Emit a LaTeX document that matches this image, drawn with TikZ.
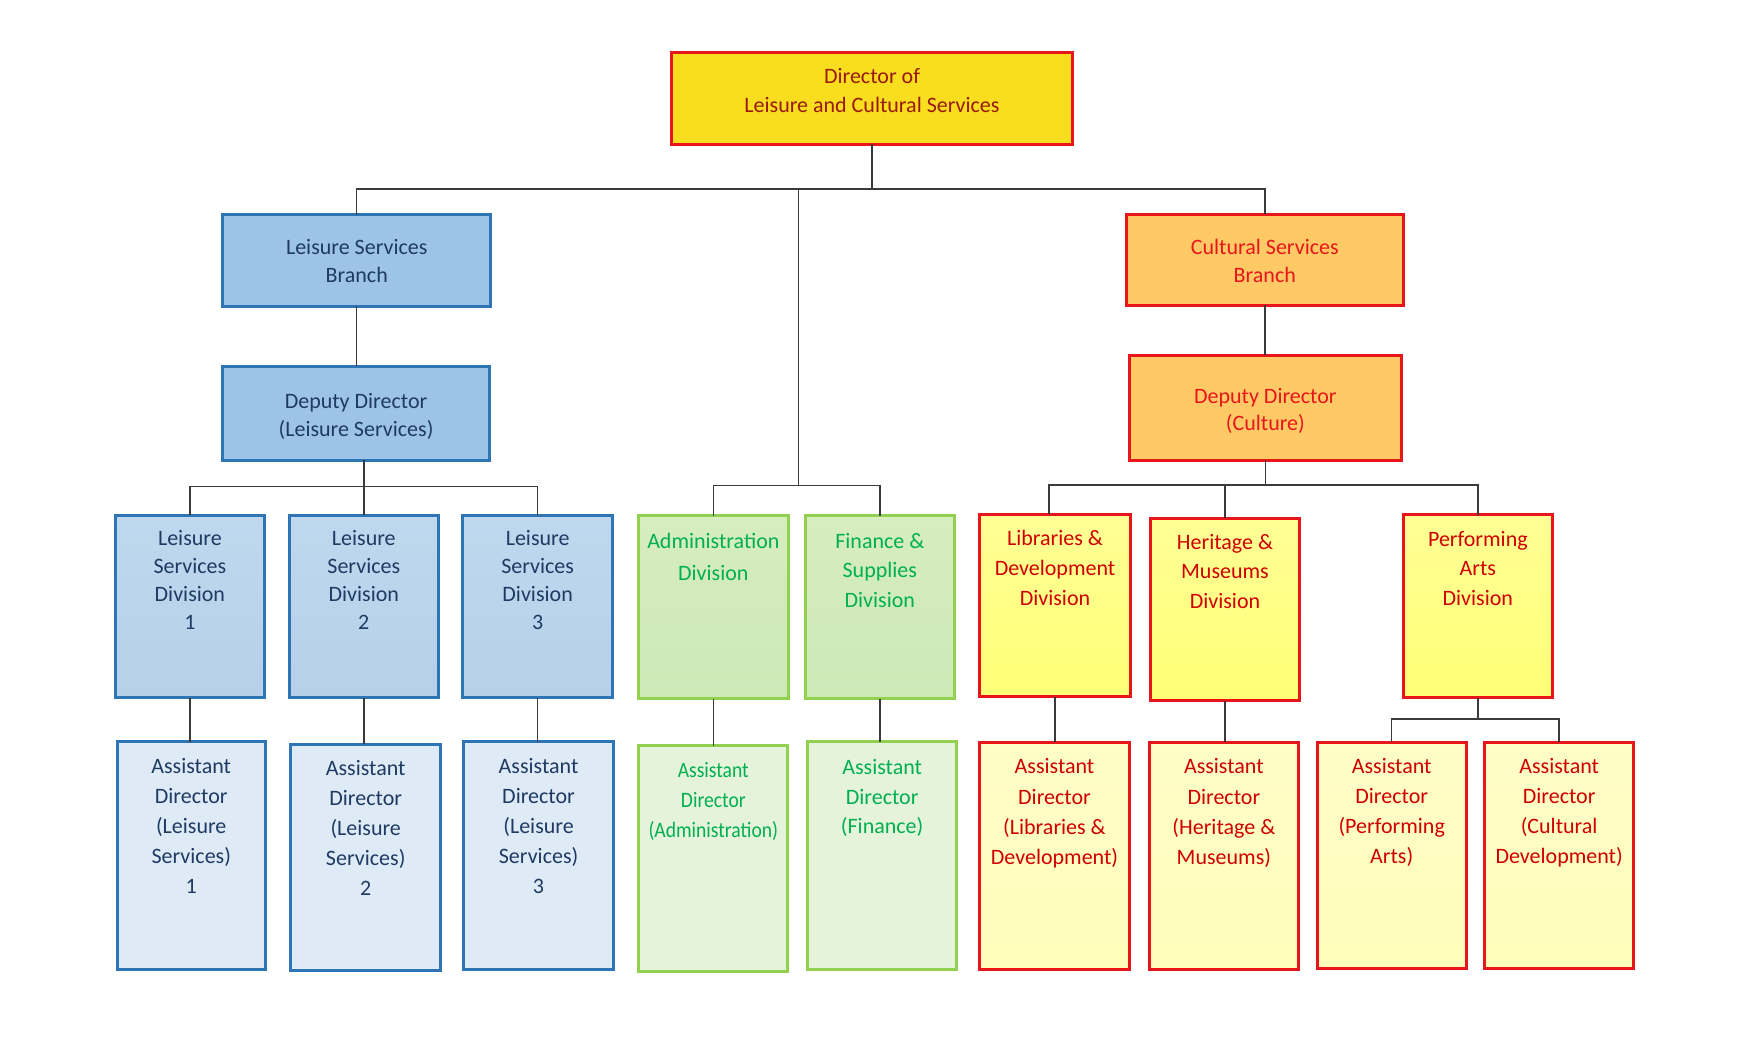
\documentclass[tikz,border=0pt]{standalone}
\usepackage{fontspec}
\setmainfont{Carlito}
\newfontfamily\condfont[FakeStretch=0.89]{Carlito}
\definecolor{bluebd}{HTML}{2E75B6}
\definecolor{bluetx}{HTML}{1F3A63}
\definecolor{greenbd}{HTML}{92D050}
\definecolor{greentx}{HTML}{00B050}
\definecolor{redbd}{HTML}{E8161B}
\definecolor{redtx}{HTML}{D00000}
\definecolor{toptx}{HTML}{9A1A0E}
\definecolor{conncol}{HTML}{3A3A3A}
\definecolor{topfill}{HTML}{F9DD1F}
\definecolor{bluebrfill}{RGB}{157,195,230}
\definecolor{bluedivtop}{RGB}{191,216,238}
\definecolor{bluedivbot}{RGB}{182,208,234}
\definecolor{blueasstfill}{RGB}{222,235,247}
\definecolor{greendivtop}{RGB}{214,237,192}
\definecolor{greendivbot}{RGB}{206,232,182}
\definecolor{greenasstfill}{RGB}{228,243,218}
\definecolor{orangefill}{RGB}{255,201,102}
\definecolor{yeldivtop}{RGB}{255,255,150}
\definecolor{yeldivbot}{RGB}{255,255,118}
\definecolor{yelassttop}{RGB}{255,253,200}
\definecolor{yelasstbot}{RGB}{255,253,185}
\tikzset{
  base/.style={rectangle, inner sep=0pt, outer sep=0pt, line width=1.5pt},
  topbox/.style={base, draw=redbd, fill=topfill},
  topboxtxt/.style={text=toptx, align=center, inner sep=0pt},
  bluebr/.style={base, draw=bluebd, fill=bluebrfill},
  bluebrtxt/.style={text=bluetx, align=center, inner sep=0pt},
  bluediv/.style={base, draw=bluebd, top color=bluedivtop, bottom color=bluedivbot},
  bluedivtxt/.style={text=bluetx, align=center, inner sep=0pt},
  blueasst/.style={base, draw=bluebd, fill=blueasstfill},
  blueassttxt/.style={text=bluetx, align=center, inner sep=0pt},
  greendiv/.style={base, draw=greenbd, top color=greendivtop, bottom color=greendivbot},
  greendivtxt/.style={text=greentx, align=center, inner sep=0pt},
  greenasst/.style={base, draw=greenbd, fill=greenasstfill},
  greenassttxt/.style={text=greentx, align=center, inner sep=0pt},
  greenasstsm/.style={greenasst},
  greenasstsmtxt/.style={greenassttxt, font={\condfont\fontsize{11pt}{15pt}\selectfont}},
  orangebr/.style={base, draw=redbd, fill=orangefill},
  orangebrtxt/.style={text=redbd, align=center, inner sep=0pt},
  yeldiv/.style={base, draw=redbd, top color=yeldivtop, bottom color=yeldivbot},
  yeldivtxt/.style={text=redtx, align=center, inner sep=0pt},
  yelasst/.style={base, draw=redbd, top color=yelassttop, bottom color=yelasstbot},
  yelassttxt/.style={text=redtx, align=center, inner sep=0pt},
  conn/.style={draw=conncol, line width=0.7pt}
}
% #1 name, #2 style, #3 left, #4 top, #5 right, #6 bottom, #7 first baseline, #8 line skip (px), #9 text
\newcommand\orgbox[9]{%
  \node[#2, minimum width={(#5-#3-3)*0.5pt}, minimum height={(#6-#4-3)*0.5pt}] (#1) at ({(#3+#5)/2},{(#4+#6)/2}) {};
  \node[font={\fontsize{11pt}{\dimexpr #8pt/2\relax}\selectfont}, #2txt, anchor=north] (#1t) at ({(#3+#5)/2},{#7-18}) {\rule{0pt}{9pt}#9};
}
\begin{document}
\begin{tikzpicture}[x=0.5pt, y=-0.5pt]
\useasboundingbox[fill=white] (0,0) rectangle (1739,1063);

\orgbox{top}{topbox}{670}{51}{1074}{146}{83.3}{29}{Director of\\Leisure and Cultural Services}

\orgbox{lb}{bluebr}{221.4}{213.3}{492.1}{307.7}{254}{27.7}{Leisure Services\\Branch}
\orgbox{dl}{bluebr}{220.7}{365}{491.4}{462}{408.3}{27.7}{Deputy Director\\(Leisure Services)}
\orgbox{cb}{orangebr}{1125}{213}{1404.6}{307}{254}{28.5}{Cultural Services\\Branch}
\orgbox{dc}{orangebr}{1128.2}{354}{1402.5}{462}{402.7}{27.5}{Deputy Director\\(Culture)}

\orgbox{d1}{bluediv}{113.8}{514}{266}{699}{545}{28}{Leisure\\Services\\Division\\1}
\orgbox{d2}{bluediv}{287.7}{514}{439.9}{699}{545}{28}{Leisure\\Services\\Division\\2}
\orgbox{d3}{bluediv}{461.2}{514}{614.1}{699}{545}{28}{Leisure\\Services\\Division\\3}
\orgbox{adm}{greendiv}{636.7}{514.3}{790}{700}{548.3}{31.7}{Administration\\Division}
\orgbox{fin}{greendiv}{803.7}{514.3}{956}{700}{548.3}{29.2}{Finance \&\\Supplies\\Division}
\orgbox{lib}{yeldiv}{978.3}{512.7}{1131.7}{698.3}{545}{30}{Libraries \&\\Development\\Division}
\orgbox{her}{yeldiv}{1149}{516.7}{1301}{702.3}{549.3}{29.2}{Heritage \&\\Museums\\Division}
\orgbox{perf}{yeldiv}{1401.7}{513.3}{1554}{699.3}{546}{29.5}{Performing\\Arts\\Division}

\orgbox{a1}{blueasst}{115.5}{740}{267}{971}{773}{30}{Assistant\\Director\\(Leisure\\Services)\\1}
\orgbox{a2}{blueasst}{289.4}{742.7}{442}{971.7}{775}{30}{Assistant\\Director\\(Leisure\\Services)\\2}
\orgbox{a3}{blueasst}{462.3}{740}{614.8}{971}{773}{30}{Assistant\\Director\\(Leisure\\Services)\\3}
\orgbox{aadm}{greenasstsm}{637.3}{744}{789.3}{973.3}{776.7}{30}{Assistant\\Director\\(Administration)}
\orgbox{afin}{greenasst}{806}{740}{958.3}{970.7}{774}{29.7}{Assistant\\Director\\(Finance)}
\orgbox{alib}{yelasst}{978.3}{740.7}{1130.7}{971}{773.3}{30.3}{Assistant\\Director\\(Libraries \&\\Development)}
\orgbox{aher}{yelasst}{1147.7}{740.7}{1300}{971}{773.3}{30.3}{Assistant\\Director\\(Heritage \&\\Museums)}
\orgbox{aperf}{yelasst}{1315.7}{740.7}{1467.7}{970}{773}{30}{Assistant\\Director\\(Performing\\Arts)}
\orgbox{acul}{yelasst}{1483.3}{740.7}{1635}{970}{773}{30}{Assistant\\Director\\(Cultural\\Development)}

% bus coordinates
\coordinate (busA) at (0,189);
\coordinate (busB) at (0,485.7);
\coordinate (busC) at (0,486.7);
\coordinate (busD) at (0,485);
\coordinate (busE) at (0,719);
\coordinate (midAF) at (798.7,0);

% top level
\draw[conn] (top.south) -- (top.south |- busA);
\draw[conn] (lb.north) |- (cb.north |- busA) -- (cb.north);
\draw[conn] (midAF |- busA) -- (midAF |- busB);
\draw[conn] (adm.north) |- (fin.north |- busB) -- (fin.north);

% leisure
\draw[conn] (lb.south) -- (lb.south |- dl.north);
\draw[conn] (d2.north) -- (d2.north |- dl.south);
\draw[conn] (d1.north) |- (d3.north |- busC) -- (d3.north);
\draw[conn] (d1.south) -- (d1.south |- a1.north);
\draw[conn] (d2.south) -- (d2.south |- a2.north);
\draw[conn] (d3.south) -- (d3.south |- a3.north);

% admin / finance
\draw[conn] (adm.south) -- (adm.south |- aadm.north);
\draw[conn] (fin.south) -- (fin.south |- afin.north);

% culture
\draw[conn] (cb.south) -- (cb.south |- dc.north);
\draw[conn] (dc.south) -- (dc.south |- busD);
\draw[conn] ([xshift=-3pt]lib.north) |- (perf.north |- busD) -- (perf.north);
\draw[conn] (her.north) -- (her.north |- busD);
\draw[conn] (lib.south) -- (lib.south |- alib.north);
\draw[conn] (her.south) -- (her.south |- aher.north);
\draw[conn] (perf.south) -- (perf.south |- busE);
\draw[conn] (aperf.north) |- (acul.north |- busE) -- (acul.north);
\end{tikzpicture}
\end{document}
